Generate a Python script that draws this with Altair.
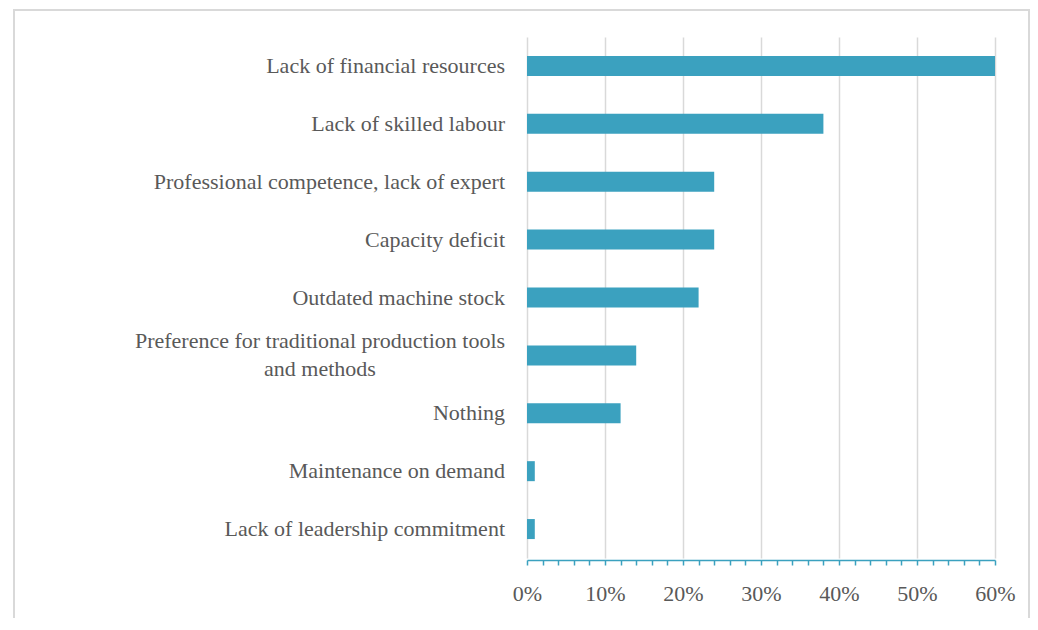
import altair as alt
import pandas as pd

categories = [
    "Lack of financial resources ",
    "Lack of skilled labour ",
    "Professional competence, lack of expert",
    "Capacity deficit",
    "Outdated machine stock",
    "Preference for traditional production tools\nand methods",
    "Nothing",
    "Maintenance on demand",
    "Lack of leadership commitment ",
]
values = [60, 38, 24, 24, 22, 14, 12, 1, 1]
tick_values = list(range(0, 62, 2))

df = pd.DataFrame({"category": categories, "value": values})

FONT = "Liberation Serif"
TEXT = "#595959"
BAR = "#3ba1bf"
GRID = "#d9d9d9"

y_enc = alt.Y("category:N", sort=categories, axis=None,
              scale=alt.Scale(paddingInner=0, paddingOuter=0))

bars = alt.Chart(df).mark_bar(size=20, color=BAR).encode(
    x=alt.X("value:Q",
            scale=alt.Scale(domain=[0, 60], nice=False),
            axis=alt.Axis(
                values=tick_values,
                title=None,
                labelExpr="datum.value % 10 === 0 ? datum.value + '%' : ''",
                labelFont=FONT, labelFontSize=22, labelColor=TEXT,
                labelPadding=18, labelFlush=False,
                domainColor=BAR, domainWidth=1.5,
                tickColor=BAR, tickWidth=1.5, tickSize=5,
                offset=2,
                grid=True, gridColor=GRID, gridWidth=1.5,
                gridOpacity={"condition": {"test": "datum.value % 10 === 0", "value": 1}, "value": 0},
            )),
    y=y_enc,
)

labels_single = alt.Chart(df).transform_filter(
    "indexof(datum.category, '\\n') < 0"
).mark_text(align="right", baseline="middle", font=FONT, fontSize=22, color=TEXT).encode(
    y=y_enc, text="category:N", x=alt.value(-22)
)

labels_multi = alt.Chart(df).transform_filter(
    "indexof(datum.category, '\\n') >= 0"
).mark_text(align="center", baseline="middle", font=FONT, fontSize=22, color=TEXT,
            lineBreak="\n", lineHeight=28, dy=-14).encode(
    y=y_enc, text="category:N", x=alt.value(-207)
)

frame = alt.Chart(alt.Data(values=[{}])).mark_rect(
    fill=None, stroke=GRID, strokeWidth=2
).encode(
    x=alt.value(-513), x2=alt.value(502), y=alt.value(-27), y2=alt.value(700)
)

chart = alt.layer(frame, bars, labels_single, labels_multi).properties(
    width=468, height=521,
    background="white",
    autosize=alt.AutoSizeParams(type="none"),
    padding={"left": 519, "top": 29, "right": 35, "bottom": 60},
).configure_view(stroke=None, strokeWidth=0)

chart.save("out.html", embed_options={"renderer": "svg", "actions": False})
